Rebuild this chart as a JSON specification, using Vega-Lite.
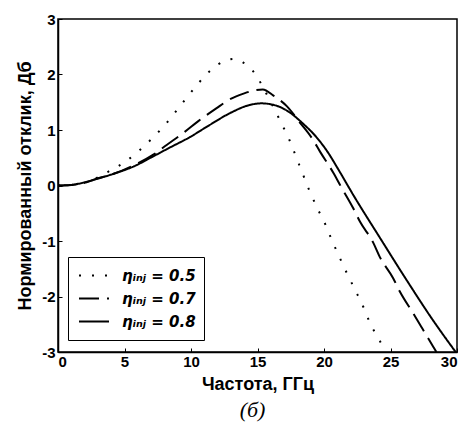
{
  "$schema": "https://vega.github.io/schema/vega-lite/v6.json",
  "width": 399,
  "height": 333,
  "autosize": {"type": "none"},
  "padding": {"left": 58, "top": 19, "right": 15, "bottom": 71},
  "background": "white",
  "title": {"text": "(б)", "orient": "bottom", "font": "Liberation Serif", "fontStyle": "italic", "fontWeight": "normal", "fontSize": 22, "color": "black", "offset": 7, "anchor": "middle", "dx": -5},
  "config": {
    "view": {"stroke": "black", "strokeWidth": 1.5},
    "axis": {"grid": false, "domainColor": "black", "domainWidth": 1.5, "tickColor": "black", "tickSize": -4, "labelFont": "Liberation Sans", "labelFontWeight": "bold", "labelFontSize": 15, "labelColor": "black", "titleFont": "Liberation Sans", "titleFontWeight": "bold", "titleFontSize": 18, "titleColor": "black"}
  },
  "data": {"values": [
    {"f": 0, "r": 0, "eta": "0.5"}, {"f": 1, "r": 0.01, "eta": "0.5"}, {"f": 2, "r": 0.05, "eta": "0.5"}, {"f": 2.65, "r": 0.11, "eta": "0.5"}, {"f": 3.86, "r": 0.26, "eta": "0.5"}, {"f": 5.0, "r": 0.42, "eta": "0.5"}, {"f": 6.07, "r": 0.62, "eta": "0.5"}, {"f": 7.04, "r": 0.84, "eta": "0.5"}, {"f": 8.0, "r": 1.08, "eta": "0.5"}, {"f": 8.85, "r": 1.33, "eta": "0.5"}, {"f": 9.67, "r": 1.58, "eta": "0.5"}, {"f": 10.55, "r": 1.84, "eta": "0.5"}, {"f": 11.5, "r": 2.08, "eta": "0.5"}, {"f": 12.6, "r": 2.25, "eta": "0.5"}, {"f": 13.2, "r": 2.28, "eta": "0.5"}, {"f": 13.9, "r": 2.22, "eta": "0.5"}, {"f": 14.86, "r": 2.0, "eta": "0.5"}, {"f": 15.5, "r": 1.73, "eta": "0.5"}, {"f": 16.2, "r": 1.41, "eta": "0.5"}, {"f": 16.8, "r": 1.12, "eta": "0.5"}, {"f": 17.4, "r": 0.82, "eta": "0.5"}, {"f": 17.9, "r": 0.52, "eta": "0.5"}, {"f": 18.4, "r": 0.21, "eta": "0.5"}, {"f": 18.9, "r": -0.09, "eta": "0.5"}, {"f": 19.5, "r": -0.41, "eta": "0.5"}, {"f": 20.1, "r": -0.7, "eta": "0.5"}, {"f": 20.6, "r": -0.99, "eta": "0.5"}, {"f": 21.2, "r": -1.31, "eta": "0.5"}, {"f": 21.8, "r": -1.62, "eta": "0.5"}, {"f": 22.4, "r": -1.91, "eta": "0.5"}, {"f": 23.0, "r": -2.21, "eta": "0.5"}, {"f": 23.5, "r": -2.5, "eta": "0.5"}, {"f": 24.2, "r": -2.8, "eta": "0.5"}, {"f": 24.6, "r": -3.0, "eta": "0.5"},
    {"f": 0, "r": 0, "eta": "0.7"}, {"f": 1, "r": 0.01, "eta": "0.7"}, {"f": 2, "r": 0.05, "eta": "0.7"}, {"f": 3, "r": 0.13, "eta": "0.7"}, {"f": 4.3, "r": 0.22, "eta": "0.7"}, {"f": 5.66, "r": 0.36, "eta": "0.7"}, {"f": 7.2, "r": 0.56, "eta": "0.7"}, {"f": 8.17, "r": 0.73, "eta": "0.7"}, {"f": 9.55, "r": 0.97, "eta": "0.7"}, {"f": 10.55, "r": 1.16, "eta": "0.7"}, {"f": 11.9, "r": 1.39, "eta": "0.7"}, {"f": 12.9, "r": 1.55, "eta": "0.7"}, {"f": 14.0, "r": 1.66, "eta": "0.7"}, {"f": 14.9, "r": 1.72, "eta": "0.7"}, {"f": 15.4, "r": 1.73, "eta": "0.7"}, {"f": 16.2, "r": 1.62, "eta": "0.7"}, {"f": 17.2, "r": 1.43, "eta": "0.7"}, {"f": 18.2, "r": 1.13, "eta": "0.7"}, {"f": 19.1, "r": 0.85, "eta": "0.7"}, {"f": 19.7, "r": 0.61, "eta": "0.7"}, {"f": 20.7, "r": 0.23, "eta": "0.7"}, {"f": 21.3, "r": -0.03, "eta": "0.7"}, {"f": 22.2, "r": -0.41, "eta": "0.7"}, {"f": 22.7, "r": -0.65, "eta": "0.7"}, {"f": 23.7, "r": -1.03, "eta": "0.7"}, {"f": 24.2, "r": -1.29, "eta": "0.7"}, {"f": 25.2, "r": -1.67, "eta": "0.7"}, {"f": 25.7, "r": -1.91, "eta": "0.7"}, {"f": 26.7, "r": -2.3, "eta": "0.7"}, {"f": 27.3, "r": -2.54, "eta": "0.7"}, {"f": 28.2, "r": -2.9, "eta": "0.7"}, {"f": 28.45, "r": -3.0, "eta": "0.7"},
    {"f": 0, "r": 0, "eta": "0.8"}, {"f": 1, "r": 0.01, "eta": "0.8"}, {"f": 1.5, "r": 0.03, "eta": "0.8"}, {"f": 2.65, "r": 0.1, "eta": "0.8"}, {"f": 4.29, "r": 0.22, "eta": "0.8"}, {"f": 5.66, "r": 0.34, "eta": "0.8"}, {"f": 7.04, "r": 0.51, "eta": "0.8"}, {"f": 8.3, "r": 0.67, "eta": "0.8"}, {"f": 9.9, "r": 0.87, "eta": "0.8"}, {"f": 11.4, "r": 1.09, "eta": "0.8"}, {"f": 12.9, "r": 1.3, "eta": "0.8"}, {"f": 14.4, "r": 1.45, "eta": "0.8"}, {"f": 15.3, "r": 1.48, "eta": "0.8"}, {"f": 16.4, "r": 1.44, "eta": "0.8"}, {"f": 17.4, "r": 1.32, "eta": "0.8"}, {"f": 18.4, "r": 1.12, "eta": "0.8"}, {"f": 19.4, "r": 0.88, "eta": "0.8"}, {"f": 20.2, "r": 0.63, "eta": "0.8"}, {"f": 21.2, "r": 0.24, "eta": "0.8"}, {"f": 22.2, "r": -0.17, "eta": "0.8"}, {"f": 24.2, "r": -0.94, "eta": "0.8"}, {"f": 26.2, "r": -1.7, "eta": "0.8"}, {"f": 28.2, "r": -2.43, "eta": "0.8"}, {"f": 29.9, "r": -3.0, "eta": "0.8"}
  ]},
  "mark": {"type": "line", "color": "black", "strokeWidth": 2, "interpolate": "monotone", "clip": true},
  "encoding": {
    "x": {"field": "f", "type": "quantitative", "scale": {"domain": [0, 30], "nice": false}, "axis": {"values": [0, 5, 10, 15, 20, 25, 30], "title": "Частота, ГГц", "labelPadding": 6, "titlePadding": 6}},
    "y": {"field": "r", "type": "quantitative", "scale": {"domain": [-3, 3], "nice": false}, "axis": {"values": [-3, -2, -1, 0, 1, 2, 3], "labelExpr": "replace(datum.label, '−', '-')", "title": "Нормированный отклик, Дб", "labelPadding": 7, "titlePadding": 7}},
    "strokeDash": {"field": "eta", "type": "nominal", "scale": {"domain": ["0.5", "0.7", "0.8"], "range": [[2, 11], [20, 8], [1, 0]]},
      "legend": {"title": null, "orient": "none", "legendX": 10, "legendY": 238, "symbolType": "stroke", "symbolSize": 900, "symbolStrokeWidth": 2, "symbolStrokeColor": "black", "symbolOffset": 2, "labelOffset": 12, "labelExpr": "'ηᵢₙⱼ = ' + datum.label", "labelFont": "DejaVu Sans", "labelFontStyle": "italic", "labelFontWeight": "bold", "labelFontSize": 15, "labelColor": "black", "strokeColor": "black", "fillColor": "white", "padding": 8, "rowPadding": 2, "clipHeight": 21, "symbolLimit": 0}}
  }
}
